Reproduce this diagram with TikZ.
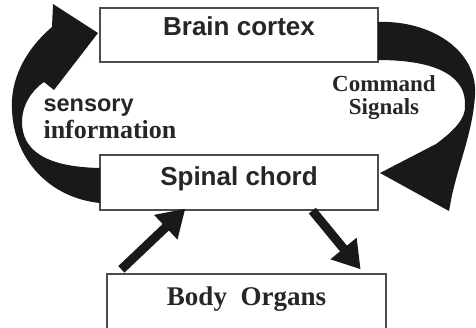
\documentclass[tikz,border=0pt]{standalone}
\usepackage{fontspec}
\setmainfont{Liberation Serif}
\setsansfont{Liberation Sans}
\usetikzlibrary{arrows.meta, calc, math}

\begin{document}
\begin{tikzpicture}[x=1pt, y=-1pt,
  organ/.style={draw=black!70, line width=1.3pt, fill=white, inner sep=0pt, text=black!85},
  bigarrow/.style={line width=9pt, black!90, -{Triangle[length=27pt,width=32pt]}},
  loopfill/.style={fill=black!90}]
\tikzmath{
\wbox=278;
}
\useasboundingbox (0,0) rectangle (476,327);
\clip (0,0) rectangle (476,327);

% the three boxes
\node[organ, minimum width=\wbox, text height=27pt, text depth=27pt,
  font=\sffamily\bfseries\fontsize{26}{30}\selectfont] (cortex) at (239,35) {Brain cortex};
\node[organ, minimum width=\wbox, text height=30pt, text depth=25pt,
  font=\sffamily\bfseries\fontsize{26}{30}\selectfont] (spinal) at (239,182.5) {Spinal chord};
\node[organ, minimum width=279, text height=31pt, text depth=40pt,
  font=\bfseries\fontsize{27}{30}\selectfont] (organs) at (246.5,309.5) {Body\ \ Organs};

% sensory loop, left
\fill[loopfill] (98,33) -- (53,4) -- (52,27) .. controls (25,50) and (10,80) .. (12,110)
  .. controls (14,160) and (50,198) .. (100,203) -- (100,168)
  .. controls (45,167) and (22,150) .. (22,122) .. controls (22,105) and (32,90) .. (44,82)
  -- (54,90) -- cycle;
% command loop, right
\fill[loopfill] (378,22) .. controls (430,20) and (478,50) .. (475,95)
  .. controls (473,130) and (460,160) .. (452,195) -- (449,211) -- (380,173)
  -- (436,144) .. controls (455,130) and (466,118) .. (465,105)
  .. controls (466,78) and (440,60) .. (378,60) -- cycle;

\node[align=left, anchor=west, text=black!85, font=\bfseries\fontsize{26}{27}\selectfont] (sensory) at (40,119)
  {{\sffamily\fontsize{23.5}{27}\selectfont sensory}\\information};
\node[align=center, text=black!85, font=\bfseries\fontsize{23}{23}\selectfont] (command) at (384,98)
  {Command\\Signals};

% straight arrows
\draw[bigarrow] ([xshift=15pt,yshift=4pt]organs.north west) -- ([xshift=86pt,yshift=2pt]spinal.south west);
\draw[bigarrow] ([xshift=213pt]spinal.south west) -- ([xshift=-26pt,yshift=4pt]organs.north east);

\end{tikzpicture}
\end{document}
